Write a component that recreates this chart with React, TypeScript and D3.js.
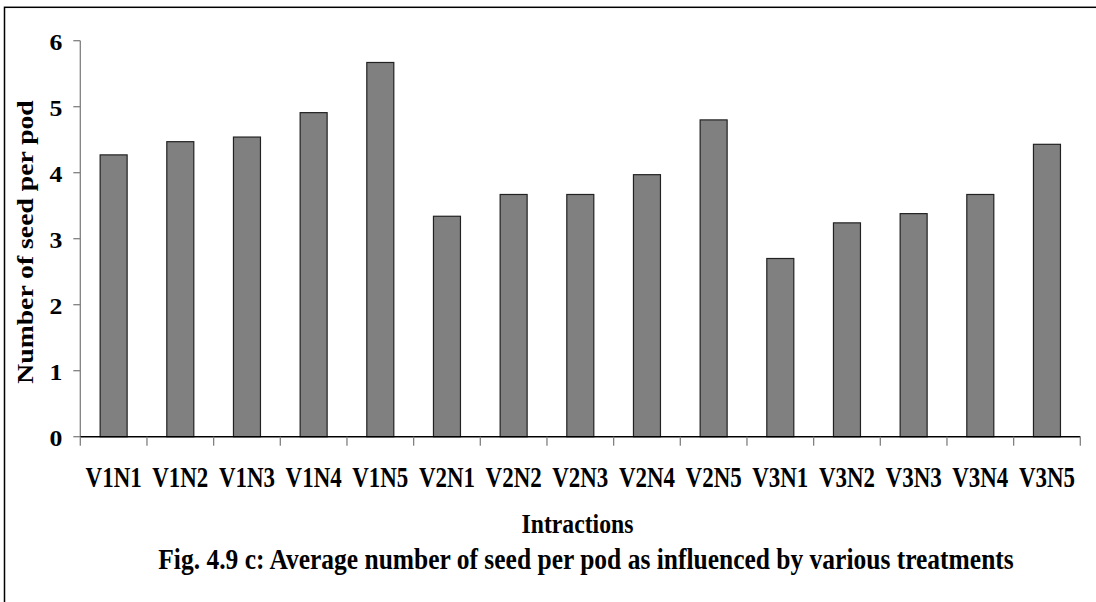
import React from "react";
import * as d3 from "d3";

const categories = ["V1N1","V1N2","V1N3","V1N4","V1N5","V2N1","V2N2","V2N3","V2N4","V2N5","V3N1","V3N2","V3N3","V3N4","V3N5"];
const values = [4.27,4.47,4.54,4.91,5.67,3.34,3.67,3.67,3.97,4.80,2.70,3.24,3.38,3.67,4.43];
const yTicks = [0,1,2,3,4,5,6];
const xTitle = "Intractions";
const yTitle = "Number of seed per pod";
const caption = "Fig. 4.9 c: Average number of seed per pod as influenced by various treatments";

export default function App() {
  const W = 1096, H = 602;
  const left = 80.3, right = 1080.3, top = 40.7, bottom = 436.7;
  const x = d3.scaleBand<string>().domain(categories).range([left, right]).padding(0);
  const y = d3.scaleLinear().domain([0, 6]).range([bottom, top]);
  const bw = x.bandwidth() * 0.405;
  const font = "'Liberation Serif', 'Times New Roman', serif";
  const boundaries = d3.range(categories.length + 1).map(i => left + i * x.step());

  return (
    <svg width={W} height={H} style={{ position: "absolute", left: 0, top: 0, background: "#fff" }}
      fontFamily={font} fontWeight="bold">
      <rect x={0} y={0} width={W} height={H} fill="#fff" />
      <rect x={4.5} y={7.3} width={1300} height={800} fill="none" stroke="#000" strokeWidth={1.5} />
      {/* y axis */}
      <line x1={left} x2={left} y1={top} y2={bottom} stroke="#808080" strokeWidth={1.3} />
      {yTicks.map(t => (
        <g key={t}>
          <line x1={left - 7} x2={left} y1={y(t)} y2={y(t)} stroke="#808080" strokeWidth={1.3} />
          <text x={0} y={0} textAnchor="end" fontSize={23}
            transform={`translate(${left - 18},${y(t) + 9.5}) scale(1.12,1.0)`}>{t}</text>
        </g>
      ))}
      {/* bars */}
      {categories.map((c, i) => (
        <rect key={c} x={(x(c) as number) + x.bandwidth() / 2 - bw / 2} y={y(values[i])}
          width={bw} height={y(0) - y(values[i])} fill="#808080" stroke="#222" strokeWidth={1.2} />
      ))}
      {/* x axis */}
      <line x1={left} x2={right} y1={bottom} y2={bottom} stroke="#000" strokeWidth={1.5} />
      {boundaries.map((b, i) => (
        <line key={i} x1={b} x2={b} y1={bottom} y2={bottom + 9} stroke="#808080" strokeWidth={1.3} />
      ))}
      {categories.map(c => (
        <text key={c} x={0} y={0} textAnchor="middle" fontSize={22.5}
          transform={`translate(${(x(c) as number) + x.bandwidth() / 2},${487}) scale(1.02,1.28)`}>{c}</text>
      ))}
      <text x={0} y={0} textAnchor="middle" fontSize={23.7}
        transform={`translate(577.5,533) scale(1,1.15)`}>{xTitle}</text>
      <text x={0} y={0} textAnchor="middle" fontSize={25.5}
        transform={`translate(586,569) scale(1,1.18)`}>{caption}</text>
      <text x={0} y={0} textAnchor="middle" fontSize={22.7}
        transform={`translate(33,242) rotate(-90) scale(1.22,1)`}>{yTitle}</text>
    </svg>
  );
}
